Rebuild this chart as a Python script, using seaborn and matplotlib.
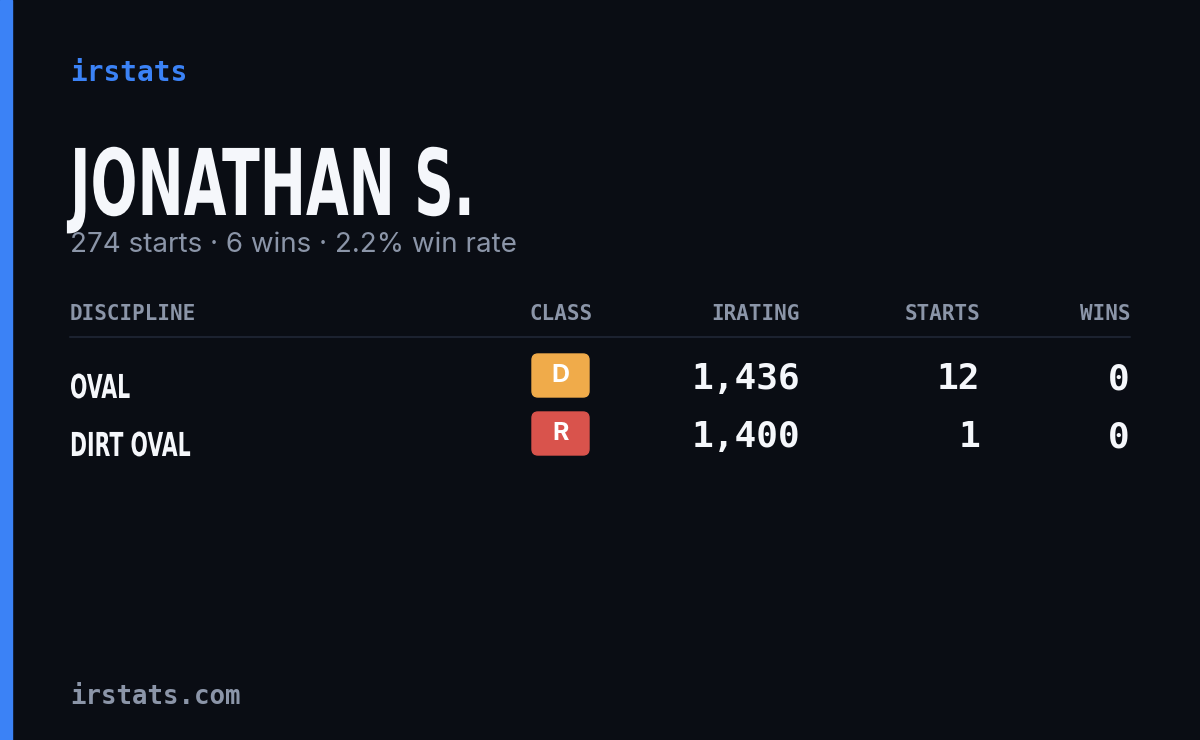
import matplotlib
matplotlib.use("Agg")
import matplotlib.pyplot as plt
import seaborn as sns
from matplotlib.patches import FancyBboxPatch, Rectangle, PathPatch
from matplotlib.textpath import TextPath
from matplotlib.font_manager import FontProperties
from matplotlib.transforms import Affine2D

sns.set_style("dark")

# data
brand = "irstats"
driver = "JONATHAN S."
summary = "274 starts · 6 wins · 2.2% win rate"
headers = ["DISCIPLINE", "CLASS", "IRATING", "STARTS", "WINS"]
disciplines = ["OVAL", "DIRT OVAL"]
classes = ["D", "R"]
class_colors = ["#f0ab4a", "#d9534c"]
iratings = [1436, 1400]
starts = [12, 1]
wins = [0, 0]
footer = "irstats.com"

bg = "#0a0d14"
mono = ["DejaVu Sans Mono"]
bold = FontProperties(family="DejaVu Sans", weight="bold")


def narrow_text(ax, x, baseline, s, size, sx, color):
    # condensed bold text: horizontally squeezed glyph outlines
    path = TextPath((0, 0), s, size=1, prop=bold)
    tr = Affine2D().scale(size * sx, -size).translate(x, baseline)
    ax.add_patch(PathPatch(tr.transform_path(path), color=color, lw=0))


fig = plt.figure(figsize=(12, 7.4), dpi=100, facecolor=bg)
ax = fig.add_axes([0, 0, 1, 1])
ax.set_facecolor(bg)
ax.set_xlim(0, 1200)
ax.set_ylim(740, 0)
ax.axis("off")

ax.add_patch(Rectangle((0, 0), 12, 740, color="#3b82f6"))

ax.text(70, 73, brand, family=mono, fontweight="bold", fontsize=20, color="#3b82f6", va="center")
narrow_text(ax, 70, 215, driver, 92, 0.6, "#f5f7fb")
ax.text(70, 245, summary, family=["Inter", "DejaVu Sans"], fontsize=20,
        color="#8b95a8", va="center")

cols = [(70, "left"), (593, "right"), (800, "right"), (980, "right"), (1130, "right")]
for (x, ha), h in zip(cols, headers):
    ax.text(x, 314, h, family=mono, fontweight="bold", fontsize=15, color="#8b95a8",
            ha=ha, va="center")
ax.plot([70, 1130], [337, 337], color="#1c2230", lw=1.5)

for i, name in enumerate(disciplines):
    y = 380 + i * 58
    narrow_text(ax, 70, y + 18, name, 33, 0.62, "#f5f7fb")
    ax.add_patch(FancyBboxPatch((532, y - 26), 57, 43, boxstyle="round,pad=0,rounding_size=6",
                                color=class_colors[i]))
    ax.text(560.5, y - 4, classes[i], family=["Inter", "DejaVu Sans"], fontweight="bold",
            fontsize=18, color="white", ha="center", va="center")
    for (x, _), v in zip(cols[2:], [f"{iratings[i]:,}", str(starts[i]), str(wins[i])]):
        ax.text(x, y - 1, v, family=mono, fontweight="bold", fontsize=26, color="#f5f7fb",
                ha="right", va="center")

ax.text(70, 697, footer, family=mono, fontweight="bold", fontsize=18.5, color="#8b95a8", va="center")

fig.savefig("out.png", dpi=100, facecolor=bg)
